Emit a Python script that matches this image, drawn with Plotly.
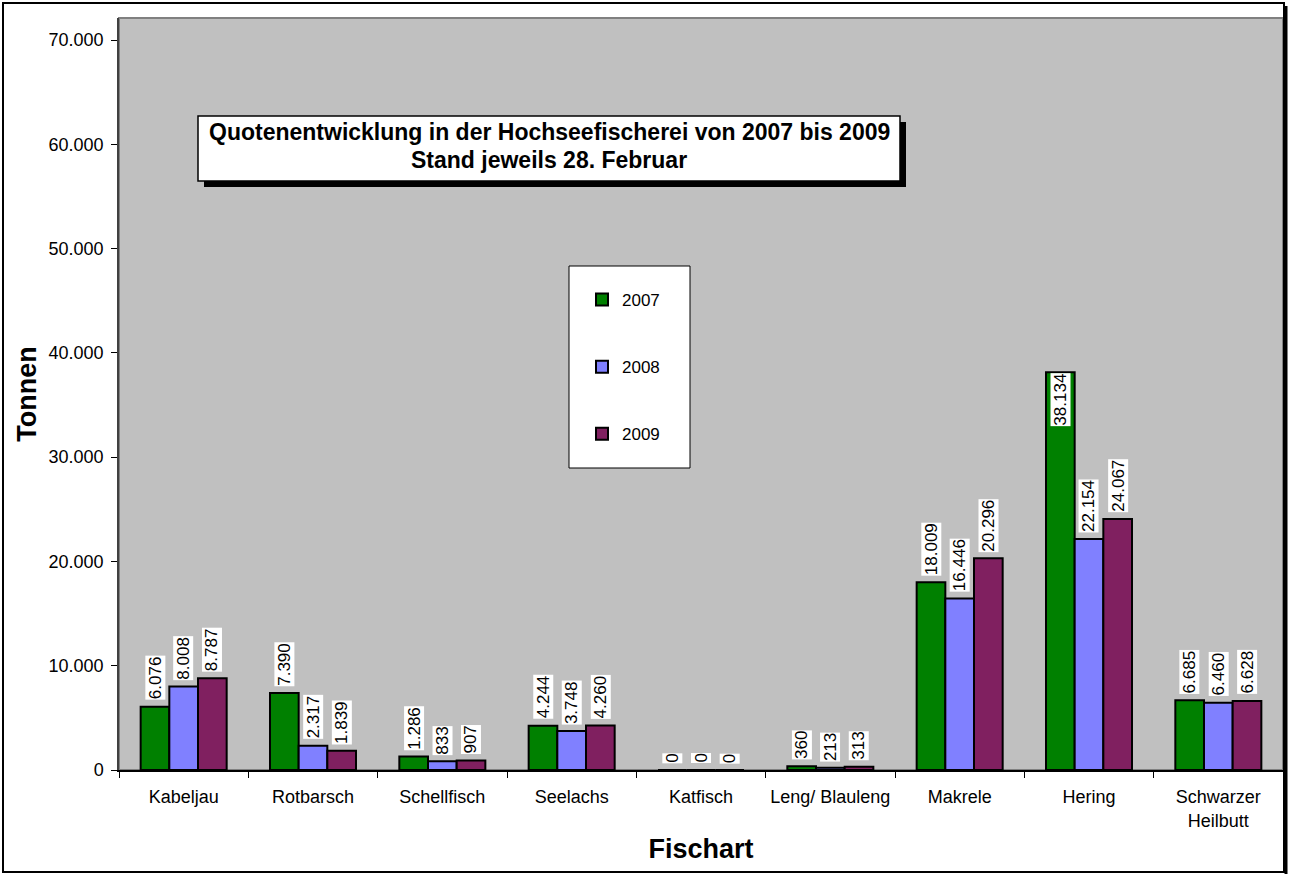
import plotly.graph_objects as go

# ---------------- data ----------------
categories = ["Kabeljau", "Rotbarsch", "Schellfisch", "Seelachs", "Katfisch",
              "Leng/ Blauleng", "Makrele", "Hering", "Schwarzer<br>Heilbutt"]
years = ["2007", "2008", "2009"]
v2007 = [6076, 7390, 1286, 4244, 0, 360, 18009, 38134, 6685]
v2008 = [8008, 2317, 833, 3748, 0, 213, 16446, 22154, 6460]
v2009 = [8787, 1839, 907, 4260, 0, 313, 20296, 24067, 6628]
y_tick_vals = [0, 10000, 20000, 30000, 40000, 50000, 60000, 70000]

series = [v2007, v2008, v2009]
colors = ["#008000", "#8080FF", "#802060"]
# labels that Excel drew inside the bar top (series index, category index)
inside_labels = {(0, 7)}

title_line1 = "Quotenentwicklung in der Hochseefischerei von 2007 bis 2009"
title_line2 = "Stand jeweils 28. Februar"

# ---------------- geometry helpers ----------------
W, H = 1289, 874
ML, MR, MT, MB = 119, 6, 18, 104
PW, PH = W - ML - MR, H - MT - MB
FONT = "Liberation Sans, Arial, sans-serif"


def px(x):
    return (x - ML) / PW


def py(y):
    return (H - MB - y) / PH


BARGAP = 0.335
bar_w = (1 - BARGAP) / len(series)


def fmt(v):
    return f"{v:,}".replace(",", ".")


fig = go.Figure()
for name, vals, col in zip(years, series, colors):
    fig.add_trace(go.Bar(
        x=categories, y=vals, name=name, legendgroup=name,
        marker=dict(color=col, line=dict(color="black", width=2)),
    ))

annotations = []
for si, vals in enumerate(series):
    off = (si - (len(series) - 1) / 2) * bar_w
    for ci, v in enumerate(vals):
        inside = (si, ci) in inside_labels
        annotations.append(dict(
            x=ci + off, y=v, xref="x", yref="y",
            text=fmt(v), textangle=-90, showarrow=False,
            font=dict(family=FONT, size=17, color="black"),
            bgcolor="white", borderpad=0,
            xanchor="center", yanchor="top" if inside else "bottom",
            yshift=0 if inside else 6,
        ))

# title
annotations.append(dict(x=px(549), y=py(132), xref="paper", yref="paper", text=f"<b>{title_line1}</b>",
                        showarrow=False, font=dict(family=FONT, size=23, color="black"),
                        xanchor="center", yanchor="middle"))
annotations.append(dict(x=px(549), y=py(160), xref="paper", yref="paper", text=f"<b>{title_line2}</b>",
                        showarrow=False, font=dict(family=FONT, size=23, color="black"),
                        xanchor="center", yanchor="middle"))

shapes = [
    # outer chart border + shadow
    dict(type="rect", xref="paper", yref="paper", x0=px(3), x1=px(1284), y0=py(3), y1=py(872),
         line=dict(color="black", width=2), layer="above"),
    dict(type="line", xref="paper", yref="paper", x0=px(1286), x1=px(1286), y0=py(6), y1=py(874),
         line=dict(color="black", width=3), layer="above"),
    # plot area border
    dict(type="rect", xref="paper", yref="paper", x0=0, x1=1, y0=0, y1=1,
         line=dict(color="#808080", width=2), layer="below"),
    # title box shadow and box
    dict(type="rect", xref="paper", yref="paper", x0=px(204), x1=px(906), y0=py(122), y1=py(187),
         fillcolor="black", line=dict(color="black", width=0), layer="above"),
    dict(type="rect", xref="paper", yref="paper", x0=px(198), x1=px(900), y0=py(116), y1=py(181),
         fillcolor="white", line=dict(color="black", width=1.5), layer="above"),
    # legend box
    dict(type="rect", xref="paper", yref="paper", x0=px(569), x1=px(690), y0=py(266), y1=py(468),
         fillcolor="white", line=dict(color="black", width=1), layer="above"),
]

fig.update_layout(
    width=W, height=H,
    margin=dict(l=ML, r=MR, t=MT, b=MB, autoexpand=False),
    paper_bgcolor="white", plot_bgcolor="#C0C0C0",
    separators=",.",
    barmode="group", bargap=BARGAP, bargroupgap=0,
    font=dict(family=FONT, size=18, color="black"),
    showlegend=True,
    legend=dict(x=px(582), y=py(282), xanchor="left", yanchor="top",
                bgcolor="rgba(0,0,0,0)", borderwidth=0,
                font=dict(family=FONT, size=17, color="black"),
                tracegroupgap=42, traceorder="grouped"),
    annotations=annotations,
    shapes=shapes,
    xaxis=dict(
        type="category", showgrid=False, zeroline=False,
        showline=True, linecolor="black", linewidth=1.5,
        ticks="outside", ticklen=6, tickcolor="black", tickson="boundaries",
        tickfont=dict(family=FONT, size=18, color="black"),
        ticklabelstandoff=10,
        title=dict(text="<b>Fischart</b>", font=dict(family=FONT, size=27, color="black"), standoff=9),
        automargin=False,
    ),
    yaxis=dict(
        range=[0, 72110], showgrid=False, zeroline=False,
        showline=True, linecolor="#404040", linewidth=1.5,
        tickvals=y_tick_vals, tickformat=",d",
        ticks="outside", ticklen=6, tickcolor="black",
        tickfont=dict(family=FONT, size=18, color="black"),
        ticklabelstandoff=4,
        title=dict(text="<b>Tonnen</b>", font=dict(family=FONT, size=27, color="black"), standoff=4),
        automargin=False,
    ),
)

fig.write_html("out.html", config={"displayModeBar": False},
               post_script="document.body.style.margin='0';document.body.style.overflow='hidden';")
